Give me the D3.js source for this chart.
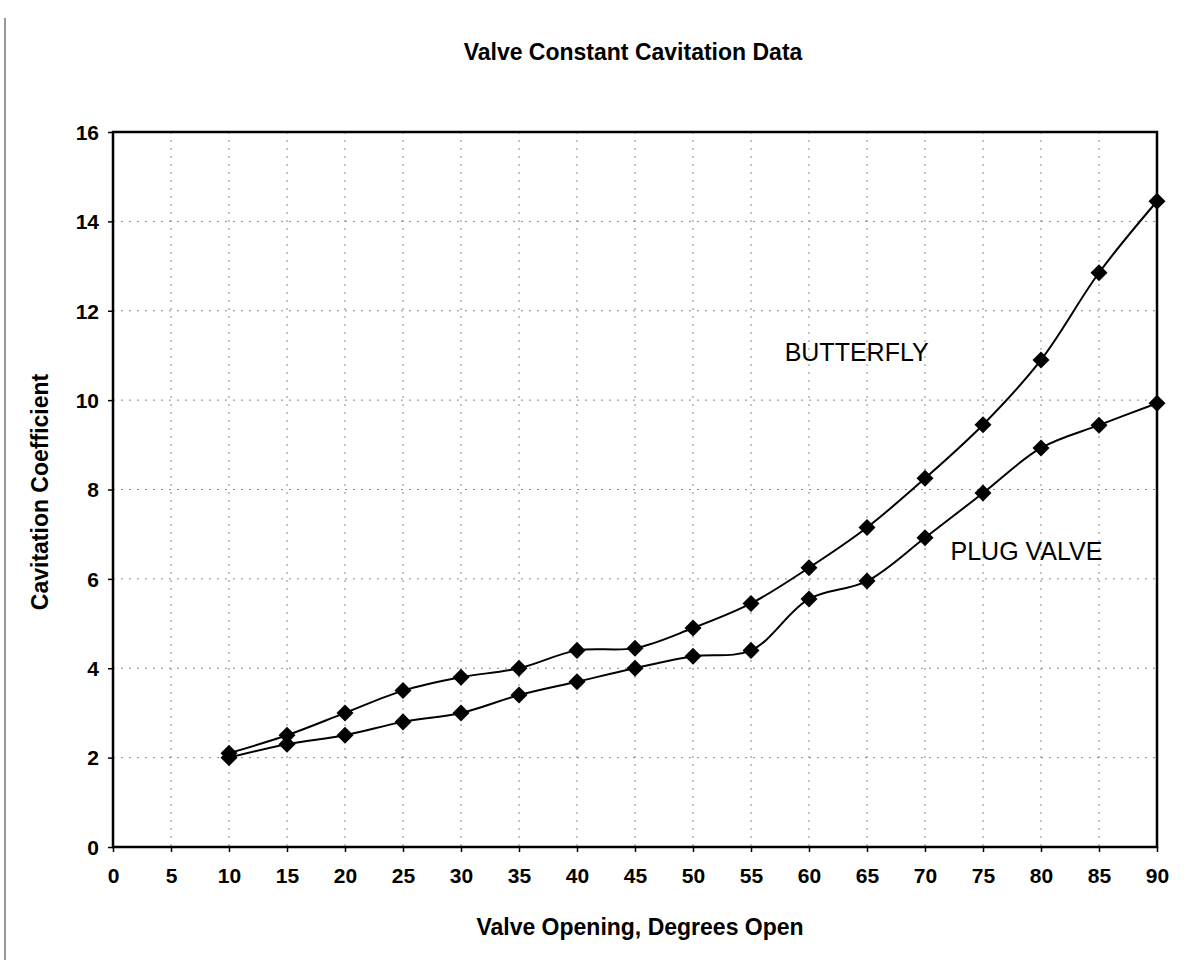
<!DOCTYPE html>
<html>
<head>
<meta charset="utf-8">
<script src="https://cdn.jsdelivr.net/npm/d3@7"></script>
<style>
  body { margin: 0; background: #fff; }
  svg { display: block; }
</style>
</head>
<body>
<svg id="drawing_region"></svg>
<script>
// valve opening (degrees) and cavitation coefficient per valve type
const openings = [10, 15, 20, 25, 30, 35, 40, 45, 50, 55, 60, 65, 70, 75, 80, 85, 90];
const butterfly = [2.1, 2.5, 3.0, 3.5, 3.8, 4.0, 4.4, 4.45, 4.9, 5.45, 6.25, 7.15, 8.25, 9.45, 10.9, 12.85, 14.45];
const plugValve = [2.0, 2.3, 2.5, 2.8, 3.0, 3.4, 3.7, 4.0, 4.27, 4.4, 5.55, 5.95, 6.92, 7.92, 8.93, 9.44, 9.93];
const xTicks = d3.range(0, 91, 5);
const yTicks = d3.range(0, 17, 2);

const config = {
    width: 1191,
    height: 966,
    margin: {top: 132, right: 34, bottom: 119, left: 113}
};

const FONT = 'Liberation Sans, Arial, sans-serif';

const svg = d3.select('#drawing_region')
    .attr('width', config.width)
    .attr('height', config.height);

const inner_width = config.width - config.margin.left - config.margin.right;
const inner_height = config.height - config.margin.top - config.margin.bottom;

const chart = svg.append('g')
    .attr('transform', `translate(${config.margin.left}, ${config.margin.top})`);

const xscale = d3.scaleLinear().domain([0, 90]).range([0, inner_width]);
const yscale = d3.scaleLinear().domain([0, 16]).range([inner_height, 0]);

// scan artefact: left edge line
svg.append('line')
    .attr('x1', 5).attr('x2', 5).attr('y1', 18).attr('y2', 960)
    .attr('stroke', '#333').attr('stroke-width', 1);

// title
svg.append('text')
    .attr('x', 633).attr('y', 60)
    .attr('text-anchor', 'middle')
    .style('font-family', FONT)
    .style('font-weight', 'bold')
    .style('font-size', '23px')
    .text('Valve Constant Cavitation Data');

// gridlines
chart.append('g').selectAll('line')
    .data(xTicks.filter(d => d > 0 && d < 90))
    .join('line')
    .attr('x1', d => xscale(d)).attr('x2', d => xscale(d))
    .attr('y1', 0).attr('y2', inner_height)
    .attr('stroke', '#888').attr('stroke-width', 1)
    .attr('stroke-dasharray', '2,6');

chart.append('g').selectAll('line')
    .data(yTicks.filter(d => d > 0 && d < 16))
    .join('line')
    .attr('x1', 0).attr('x2', inner_width)
    .attr('y1', d => yscale(d)).attr('y2', d => yscale(d))
    .attr('stroke', '#888').attr('stroke-width', 1)
    .attr('stroke-dasharray', '2,6');

// axes
const xaxis = d3.axisBottom(xscale).tickValues(xTicks).tickSize(5).tickSizeOuter(0).tickPadding(16);
const yaxis = d3.axisLeft(yscale).tickValues(yTicks).tickSize(5).tickSizeOuter(0).tickPadding(9);

const xaxis_group = chart.append('g')
    .attr('transform', `translate(0, ${inner_height})`)
    .call(xaxis);
const yaxis_group = chart.append('g').call(yaxis);

[xaxis_group, yaxis_group].forEach(g => {
    g.select('.domain').remove();
    g.selectAll('line').attr('stroke', '#000').attr('stroke-width', 1.5);
    g.selectAll('text')
        .attr('fill', '#000')
        .style('font-family', FONT)
        .style('font-weight', 'bold')
        .style('font-size', '21px');
});
yaxis_group.selectAll('text').attr('dy', '0.35em');

// plot frame
chart.append('rect')
    .attr('x', 0).attr('y', 0)
    .attr('width', inner_width).attr('height', inner_height)
    .attr('fill', 'none').attr('stroke', '#000').attr('stroke-width', 2.5);

// axis titles
svg.append('text')
    .attr('x', 640).attr('y', 935)
    .attr('text-anchor', 'middle')
    .style('font-family', FONT)
    .style('font-weight', 'bold')
    .style('font-size', '23px')
    .text('Valve Opening, Degrees Open');

svg.append('text')
    .attr('transform', 'translate(48, 492) rotate(-90)')
    .attr('text-anchor', 'middle')
    .style('font-family', FONT)
    .style('font-weight', 'bold')
    .style('font-size', '23px')
    .text('Cavitation Coefficient');

// series
const series = [
    {name: 'BUTTERFLY', values: butterfly},
    {name: 'PLUG VALVE', values: plugValve}
];

const line = d3.line()
    .x(d => xscale(d.x))
    .y(d => yscale(d.y))
    .curve(d3.curveCatmullRom.alpha(0.5));

const diamond = d3.symbol().type(d3.symbolSquare).size(145);

series.forEach(s => {
    const pts = openings.map((x, i) => ({x: x, y: s.values[i]}));
    chart.append('path')
        .datum(pts)
        .attr('d', line)
        .attr('fill', 'none')
        .attr('stroke', '#000')
        .attr('stroke-width', 2);
    chart.append('g').selectAll('path')
        .data(pts)
        .join('path')
        .attr('transform', d => `translate(${xscale(d.x)}, ${yscale(d.y)}) rotate(45)`)
        .attr('d', diamond)
        .attr('fill', '#000');
});

// in-chart labels
chart.append('text')
    .attr('x', xscale(57.9)).attr('y', yscale(10.87))
    .style('font-family', FONT)
    .style('font-size', '25px')
    .text('BUTTERFLY');

chart.append('text')
    .attr('x', xscale(72.2)).attr('y', yscale(6.42))
    .style('font-family', FONT)
    .style('font-size', '25px')
    .text('PLUG VALVE');
</script>
</body>
</html>
